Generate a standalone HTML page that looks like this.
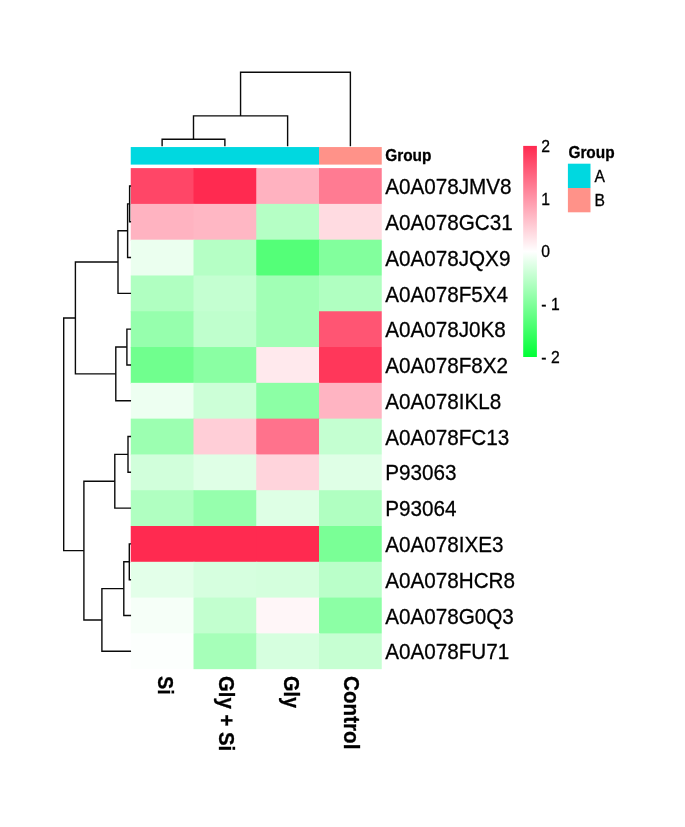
<!DOCTYPE html>
<html lang="en"><head><meta charset="utf-8"><title>Heatmap</title>
<style>html,body{margin:0;padding:0;background:#fff}svg{display:block;filter:blur(0.42px)}text{font-family:"Liberation Sans",sans-serif;fill:#000;stroke:#000;stroke-width:0.3px}.b{font-weight:bold}</style></head><body>
<svg width="685" height="827" viewBox="0 0 685 827">
<rect width="685" height="827" fill="#fff"/>
<defs><linearGradient id="cb" x1="0" y1="0" x2="0" y2="1"><stop offset="0" stop-color="#ff2a50"/><stop offset="0.5" stop-color="#ffffff"/><stop offset="1" stop-color="#00ff36"/></linearGradient></defs>
<rect x="130.75" y="147.05" width="188.25" height="17.55" fill="#00d8e0"/>
<rect x="319.0" y="147.05" width="62.75" height="17.55" fill="#ff9289"/>
<g shape-rendering="auto">
<rect x="130.75" y="168.10" width="63.75" height="36.79" fill="#ff4667"/>
<rect x="193.50" y="168.10" width="63.75" height="36.79" fill="#ff2a50"/>
<rect x="256.25" y="168.10" width="63.75" height="36.79" fill="#ffb2c0"/>
<rect x="319.00" y="168.10" width="63.75" height="36.79" fill="#ff7b92"/>
<rect x="130.75" y="203.89" width="63.75" height="36.79" fill="#ffb3c1"/>
<rect x="193.50" y="203.89" width="63.75" height="36.79" fill="#ffb7c4"/>
<rect x="256.25" y="203.89" width="63.75" height="36.79" fill="#b5ffc5"/>
<rect x="319.00" y="203.89" width="63.75" height="36.79" fill="#ffdbe1"/>
<rect x="130.75" y="239.68" width="63.75" height="36.79" fill="#ebffef"/>
<rect x="193.50" y="239.68" width="63.75" height="36.79" fill="#b5ffc5"/>
<rect x="256.25" y="239.68" width="63.75" height="36.79" fill="#54ff78"/>
<rect x="319.00" y="239.68" width="63.75" height="36.79" fill="#82ff9d"/>
<rect x="130.75" y="275.47" width="63.75" height="36.79" fill="#b0ffc1"/>
<rect x="193.50" y="275.47" width="63.75" height="36.79" fill="#c4ffd1"/>
<rect x="256.25" y="275.47" width="63.75" height="36.79" fill="#a1ffb5"/>
<rect x="319.00" y="275.47" width="63.75" height="36.79" fill="#b0ffc1"/>
<rect x="130.75" y="311.26" width="63.75" height="36.79" fill="#96ffad"/>
<rect x="193.50" y="311.26" width="63.75" height="36.79" fill="#bfffcd"/>
<rect x="256.25" y="311.26" width="63.75" height="36.79" fill="#a1ffb5"/>
<rect x="319.00" y="311.26" width="63.75" height="36.79" fill="#ff5573"/>
<rect x="130.75" y="347.05" width="63.75" height="36.79" fill="#70ff8e"/>
<rect x="193.50" y="347.05" width="63.75" height="36.79" fill="#8affa3"/>
<rect x="256.25" y="347.05" width="63.75" height="36.79" fill="#ffe9ed"/>
<rect x="319.00" y="347.05" width="63.75" height="36.79" fill="#ff375a"/>
<rect x="130.75" y="382.84" width="63.75" height="36.79" fill="#edfff1"/>
<rect x="193.50" y="382.84" width="63.75" height="36.79" fill="#ccffd7"/>
<rect x="256.25" y="382.84" width="63.75" height="36.79" fill="#8cffa5"/>
<rect x="319.00" y="382.84" width="63.75" height="36.79" fill="#ffb4c2"/>
<rect x="130.75" y="418.63" width="63.75" height="36.79" fill="#9cffb1"/>
<rect x="193.50" y="418.63" width="63.75" height="36.79" fill="#ffced7"/>
<rect x="256.25" y="418.63" width="63.75" height="36.79" fill="#ff728c"/>
<rect x="319.00" y="418.63" width="63.75" height="36.79" fill="#c4ffd1"/>
<rect x="130.75" y="454.42" width="63.75" height="36.79" fill="#d1ffdb"/>
<rect x="193.50" y="454.42" width="63.75" height="36.79" fill="#dfffe6"/>
<rect x="256.25" y="454.42" width="63.75" height="36.79" fill="#ffd4dc"/>
<rect x="319.00" y="454.42" width="63.75" height="36.79" fill="#dfffe6"/>
<rect x="130.75" y="490.21" width="63.75" height="36.79" fill="#b0ffc1"/>
<rect x="193.50" y="490.21" width="63.75" height="36.79" fill="#96ffad"/>
<rect x="256.25" y="490.21" width="63.75" height="36.79" fill="#deffe5"/>
<rect x="319.00" y="490.21" width="63.75" height="36.79" fill="#b0ffc1"/>
<rect x="130.75" y="526.00" width="63.75" height="36.79" fill="#ff2a50"/>
<rect x="193.50" y="526.00" width="63.75" height="36.79" fill="#ff2a50"/>
<rect x="256.25" y="526.00" width="63.75" height="36.79" fill="#ff2a50"/>
<rect x="319.00" y="526.00" width="63.75" height="36.79" fill="#7aff96"/>
<rect x="130.75" y="561.79" width="63.75" height="36.79" fill="#e3ffe9"/>
<rect x="193.50" y="561.79" width="63.75" height="36.79" fill="#d6ffdf"/>
<rect x="256.25" y="561.79" width="63.75" height="36.79" fill="#d4ffdd"/>
<rect x="319.00" y="561.79" width="63.75" height="36.79" fill="#baffc9"/>
<rect x="130.75" y="597.58" width="63.75" height="36.79" fill="#f6fff8"/>
<rect x="193.50" y="597.58" width="63.75" height="36.79" fill="#c2ffcf"/>
<rect x="256.25" y="597.58" width="63.75" height="36.79" fill="#fff6f8"/>
<rect x="319.00" y="597.58" width="63.75" height="36.79" fill="#8cffa5"/>
<rect x="130.75" y="633.37" width="63.75" height="36.79" fill="#fcfffd"/>
<rect x="193.50" y="633.37" width="63.75" height="36.79" fill="#a6ffb9"/>
<rect x="256.25" y="633.37" width="63.75" height="36.79" fill="#d6ffdf"/>
<rect x="319.00" y="633.37" width="63.75" height="36.79" fill="#c6ffd2"/>
</g>
<rect x="381.75" y="167.1" width="3" height="505.06" fill="#fff"/>
<rect x="129.75" y="669.16" width="255.0" height="3" fill="#fff"/>
<path d="M162.12 146.3V139.2H224.88V146.3" fill="none" stroke="#0a0a0a" stroke-width="1.4" stroke-linejoin="miter"/>
<path d="M193.50 139.2V115.9H287.62V146.3" fill="none" stroke="#0a0a0a" stroke-width="1.4" stroke-linejoin="miter"/>
<path d="M240.56 115.9V72.2H350.38V146.3" fill="none" stroke="#0a0a0a" stroke-width="1.4" stroke-linejoin="miter"/>
<path d="M131.05 186.00H129.60V221.78H131.05" fill="none" stroke="#0a0a0a" stroke-width="1.4" stroke-linejoin="miter"/>
<path d="M129.60 203.89H127.60V257.57H131.05" fill="none" stroke="#0a0a0a" stroke-width="1.4" stroke-linejoin="miter"/>
<path d="M127.60 230.73H118.00V293.37H131.05" fill="none" stroke="#0a0a0a" stroke-width="1.4" stroke-linejoin="miter"/>
<path d="M131.05 329.15H126.90V364.94H131.05" fill="none" stroke="#0a0a0a" stroke-width="1.4" stroke-linejoin="miter"/>
<path d="M126.90 347.05H115.80V400.74H131.05" fill="none" stroke="#0a0a0a" stroke-width="1.4" stroke-linejoin="miter"/>
<path d="M118.00 262.05H75.40V373.89H115.80" fill="none" stroke="#0a0a0a" stroke-width="1.4" stroke-linejoin="miter"/>
<path d="M131.05 436.52H128.00V472.31H131.05" fill="none" stroke="#0a0a0a" stroke-width="1.4" stroke-linejoin="miter"/>
<path d="M128.00 454.42H114.80V508.11H131.05" fill="none" stroke="#0a0a0a" stroke-width="1.4" stroke-linejoin="miter"/>
<path d="M131.05 543.89H129.30V579.68H131.05" fill="none" stroke="#0a0a0a" stroke-width="1.4" stroke-linejoin="miter"/>
<path d="M129.30 561.79H123.80V615.48H131.05" fill="none" stroke="#0a0a0a" stroke-width="1.4" stroke-linejoin="miter"/>
<path d="M123.80 588.63H101.90V651.26H131.05" fill="none" stroke="#0a0a0a" stroke-width="1.4" stroke-linejoin="miter"/>
<path d="M114.80 481.26H83.90V619.95H101.90" fill="none" stroke="#0a0a0a" stroke-width="1.4" stroke-linejoin="miter"/>
<path d="M75.40 317.97H63.70V550.61H83.90" fill="none" stroke="#0a0a0a" stroke-width="1.4" stroke-linejoin="miter"/>
<text font-size="22.9" transform="translate(385.20 194.15) scale(0.903 1)">A0A078JMV8</text>
<text font-size="22.9" transform="translate(385.20 229.94) scale(0.903 1)">A0A078GC31</text>
<text font-size="22.9" transform="translate(385.20 265.72) scale(0.903 1)">A0A078JQX9</text>
<text font-size="22.9" transform="translate(385.20 301.51) scale(0.903 1)">A0A078F5X4</text>
<text font-size="22.9" transform="translate(385.20 337.30) scale(0.903 1)">A0A078J0K8</text>
<text font-size="22.9" transform="translate(385.20 373.09) scale(0.903 1)">A0A078F8X2</text>
<text font-size="22.9" transform="translate(385.20 408.88) scale(0.903 1)">A0A078IKL8</text>
<text font-size="22.9" transform="translate(385.20 444.67) scale(0.903 1)">A0A078FC13</text>
<text font-size="22.9" transform="translate(385.20 480.46) scale(0.903 1)">P93063</text>
<text font-size="22.9" transform="translate(385.20 516.25) scale(0.903 1)">P93064</text>
<text font-size="22.9" transform="translate(385.20 552.04) scale(0.903 1)">A0A078IXE3</text>
<text font-size="22.9" transform="translate(385.20 587.83) scale(0.903 1)">A0A078HCR8</text>
<text font-size="22.9" transform="translate(385.20 623.62) scale(0.903 1)">A0A078G0Q3</text>
<text font-size="22.9" transform="translate(385.20 659.41) scale(0.903 1)">A0A078FU71</text>
<text class="b" font-size="16.9" transform="translate(385.25 161.40) scale(0.912 1)">Group</text>
<text class="b" font-size="21.3" transform="translate(157.70 676.00) rotate(90) scale(0.93 1)">Si</text>
<text class="b" font-size="21.3" transform="translate(218.60 676.00) rotate(90) scale(0.955 1)">Gly + Si</text>
<text class="b" font-size="21.3" transform="translate(283.60 676.00) rotate(90) scale(0.93 1)">Gly</text>
<text class="b" font-size="21.3" transform="translate(344.20 676.00) rotate(90) scale(0.97 1)">Control</text>
<rect x="523.2" y="145.9" width="13.7" height="211.1" fill="url(#cb)"/>
<text font-size="16.4" transform="translate(541.30 152.00) scale(0.96 1)">2</text>
<text font-size="16.4" transform="translate(541.30 204.70) scale(0.96 1)">1</text>
<text font-size="16.4" transform="translate(541.30 257.40) scale(0.96 1)">0</text>
<text font-size="16.4" transform="translate(541.30 310.20) scale(0.96 1)">- 1</text>
<text font-size="16.4" transform="translate(541.30 362.90) scale(0.96 1)">- 2</text>
<text class="b" font-size="16.9" transform="translate(568.40 157.90) scale(0.912 1)">Group</text>
<rect x="567.9" y="163.7" width="22.6" height="24.3" fill="#00d8e0"/>
<rect x="567.9" y="188.0" width="22.6" height="24.3" fill="#ff9289"/>
<text font-size="16.5" transform="translate(594.40 181.90) scale(0.95 1)">A</text>
<text font-size="16.5" transform="translate(594.50 206.20) scale(0.95 1)">B</text>
</svg></body></html>
